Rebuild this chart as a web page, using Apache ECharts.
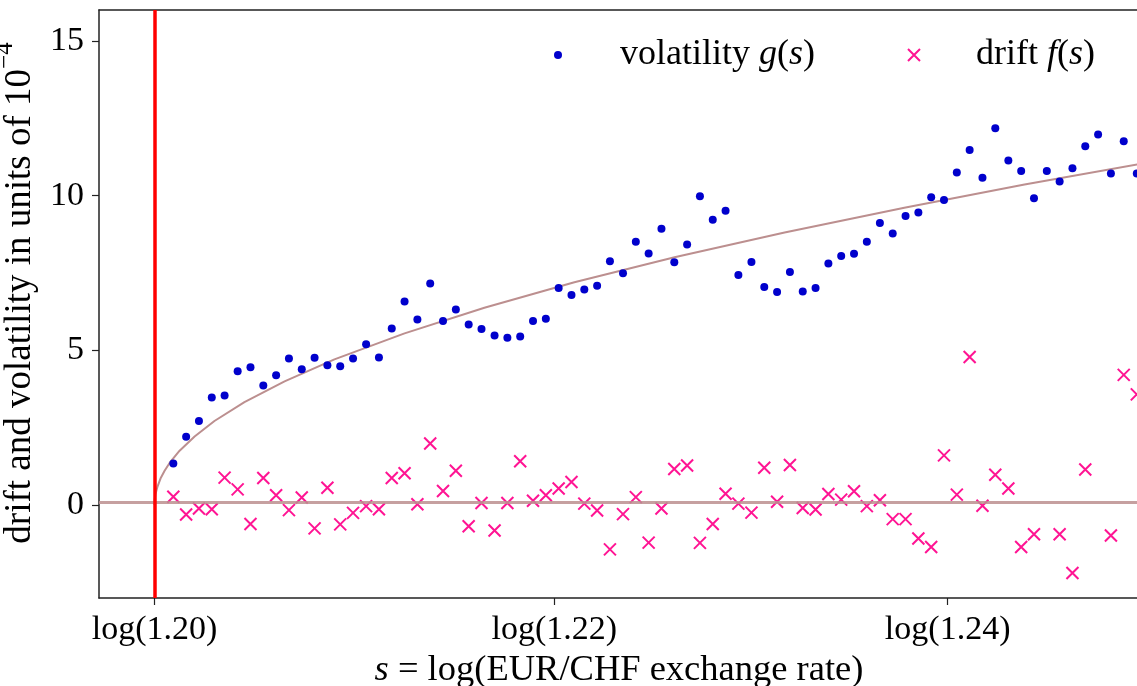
<!DOCTYPE html>
<html>
<head>
<meta charset="utf-8">
<script src="https://cdn.jsdelivr.net/npm/echarts@6/dist/echarts.min.js"></script>
<style>
  html, body { margin: 0; padding: 0; background: #ffffff; }
  #chart { width: 1137px; height: 686px; }
</style>
</head>
<body>
<div id="chart"></div>
<script>
// s = log(EUR/CHF) bin centres
const sBins = [
  0.18310, 0.18363, 0.18416, 0.18469, 0.18522, 0.18576, 0.18629, 0.18682, 0.18735, 0.18788,
  0.18841, 0.18894, 0.18947, 0.19000, 0.19053, 0.19107, 0.19160, 0.19213, 0.19266, 0.19319,
  0.19372, 0.19425, 0.19478, 0.19531, 0.19584, 0.19638, 0.19691, 0.19744, 0.19797, 0.19850,
  0.19903, 0.19956, 0.20009, 0.20062, 0.20115, 0.20169, 0.20222, 0.20275, 0.20328, 0.20381,
  0.20434, 0.20487, 0.20540, 0.20593, 0.20646, 0.20700, 0.20753, 0.20806, 0.20859, 0.20912,
  0.20965, 0.21018, 0.21071, 0.21124, 0.21177, 0.21231, 0.21284, 0.21337, 0.21390, 0.21443,
  0.21496, 0.21549, 0.21602, 0.21655, 0.21708, 0.21762, 0.21815, 0.21868, 0.21921, 0.21974,
  0.22027, 0.22080, 0.22133, 0.22186, 0.22239, 0.22293
];

// estimated volatility g(s), units of 1e-4
const volatility = [
  1.35, 2.21, 2.72, 3.48, 3.54, 4.33, 4.46, 3.87, 4.20, 4.74,
  4.39, 4.76, 4.52, 4.49, 4.74, 5.20, 4.77, 5.71, 6.58, 6.00,
  7.16, 5.95, 6.32, 5.84, 5.69, 5.48, 5.41, 5.45, 5.95, 6.02,
  7.02, 6.79, 6.97, 7.09, 7.88, 7.49, 8.51, 8.13, 8.93, 7.85,
  8.42, 9.98, 9.22, 9.51, 7.44, 7.86, 7.05, 6.89, 7.53, 6.90,
  7.02, 7.81, 8.05, 8.12, 8.51, 9.12, 8.78, 9.34, 9.46, 9.95,
  9.86, 10.75, 11.48, 10.58, 12.18, 11.14, 10.80, 9.92, 10.80, 10.46,
  10.89, 11.60, 11.98, 10.72, 11.76, 10.72
];

// estimated drift f(s), units of 1e-4 (null = outside the plotted range)
const drift = [
  0.27, -0.30, -0.11, -0.13, 0.89, 0.51, -0.61, 0.88, 0.32, -0.16,
  0.25, -0.75, 0.56, -0.62, -0.25, -0.03, -0.13, 0.88, 1.03, 0.03,
  1.99, 0.46, 1.11, -0.68, 0.07, -0.82, 0.07, 1.42, 0.14, 0.32,
  0.54, 0.75, 0.05, -0.17, -1.43, -0.29, 0.26, -1.21, -0.11, 1.17,
  1.28, -1.22, -0.61, 0.37, 0.05, -0.24, 1.21, 0.11, 1.30, -0.09,
  -0.14, 0.36, 0.18, 0.45, -0.03, 0.16, -0.45, -0.45, -1.08, -1.35,
  1.61, 0.34, 4.79, -0.02, 0.98, 0.54, -1.35, -0.94, null, -0.94,
  -2.19, 1.15, null, -0.98, 4.21, 3.58
];

// fitted volatility curve, sampled
const fitS = [
  0.18232, 0.18233, 0.18236, 0.18245, 0.18257, 0.18274, 0.18298, 0.18336, 0.18398, 0.18480,
  0.18604, 0.18770, 0.18976, 0.19266, 0.19596, 0.19968, 0.20382, 0.20837, 0.21332, 0.21829,
  0.22325
];
const fitG = [
  0.00, 0.19, 0.35, 0.61, 0.86, 1.11, 1.40, 1.76, 2.22, 2.72,
  3.33, 4.00, 4.71, 5.55, 6.38, 7.20, 8.01, 8.81, 9.61, 10.36,
  11.05
];

// fitted constant drift level
const driftLevel = 0.09;

// floor of the exchange rate
const floorRate = 1.20;

// axis ticks
const xTickRates = [1.20, 1.22, 1.24];
const xTickLabels = ['log(1.20)', 'log(1.22)', 'log(1.24)'];
const yTicks = [0, 5, 10, 15];

const X_MIN = 0.180028;
const X_MAX = 0.223021;
const FONT = 'Liberation Serif';
const INK = '#222222';

const xTickValues = xTickRates.map(r => Math.log(r));
const volData = sBins.map((s, i) => [s, volatility[i]]);
const driftData = sBins.map((s, i) => [s, drift[i]]).filter(p => p[1] !== null);
const fitData = fitS.map((s, i) => [s, fitG[i]]);

const CROSS = 'path://M0,0L10,10M10,0L0,10';
const PINK = '#ff1493';
const BLUE = '#0000cc';

const chart = echarts.init(document.getElementById('chart'), null, { renderer: 'canvas' });

const legendText = {
  fontFamily: FONT,
  fontSize: 36,
  color: '#000',
  lineHeight: 40,
  rich: {
    i: { fontFamily: FONT, fontSize: 36, fontStyle: 'italic', color: '#000', lineHeight: 40 },
    r: { fontFamily: FONT, fontSize: 36, color: '#000', lineHeight: 40 }
  }
};

chart.setOption({
  animation: false,
  backgroundColor: '#ffffff',
  grid: { left: 99, right: -2, top: 10, bottom: 88, containLabel: false, outerBoundsMode: 'none' },
  legend: [
    {
      data: ['volatility'],
      left: 554, top: 35,
      padding: 0,
      itemWidth: 8, itemHeight: 8,
      itemStyle: { opacity: 1 },
      formatter: () => '{r|volatility }{i|g}{r|(}{i|s}{r|)}',
      textStyle: Object.assign({ padding: [0, 0, 0, 53] }, legendText)
    },
    {
      data: ['drift'],
      left: 907, top: 35,
      padding: 0,
      itemWidth: 12, itemHeight: 12,
      itemStyle: { color: 'rgba(0,0,0,0)', borderColor: PINK, borderWidth: 2, opacity: 1 },
      formatter: () => '{r|drift }{i|f}{r|(}{i|s}{r|)}',
      textStyle: Object.assign({ padding: [0, 0, 0, 51] }, legendText)
    }
  ],
  xAxis: [
    {
      type: 'value',
      position: 'bottom',
      min: X_MIN,
      max: X_MAX,
      axisLine: { show: true, onZero: false, lineStyle: { color: INK, width: 1.5 } },
      axisTick: { show: true, customValues: xTickValues, length: 7, lineStyle: { color: INK, width: 1.2 } },
      axisLabel: {
        customValues: xTickValues,
        formatter: v => {
          const k = xTickValues.findIndex(t => Math.abs(t - v) < 1e-9);
          return k >= 0 ? xTickLabels[k] : '';
        },
        fontFamily: FONT, fontSize: 34, color: '#000', margin: 15
      },
      splitLine: { show: false },
      name: '{i|s}{r| = log(EUR/CHF exchange rate)}',
      nameLocation: 'middle',
      nameGap: 49,
      nameTextStyle: {
        fontFamily: FONT, fontSize: 36.5, color: '#000',
        rich: {
          i: { fontFamily: FONT, fontSize: 36.5, fontStyle: 'italic', color: '#000' },
          r: { fontFamily: FONT, fontSize: 36.5, color: '#000' }
        }
      }
    },
    {
      type: 'value',
      position: 'top',
      min: X_MIN,
      max: X_MAX,
      axisLine: { show: true, onZero: false, lineStyle: { color: INK, width: 1.5 } },
      axisTick: { show: false },
      axisLabel: { show: false },
      splitLine: { show: false }
    }
  ],
  yAxis: {
    type: 'value',
    min: -3,
    max: 16,
    axisLine: { show: true, onZero: false, lineStyle: { color: INK, width: 1.5 } },
    axisTick: { show: true, customValues: yTicks, length: 7, lineStyle: { color: INK, width: 1.2 } },
    axisLabel: { customValues: yTicks, fontFamily: FONT, fontSize: 34, color: '#000', margin: 15 },
    splitLine: { show: false },
    name: '{t|drift and volatility in units of 10}{sup|\u22124}',
    nameLocation: 'middle',
    nameRotate: 90,
    nameGap: 44,
    nameTextStyle: {
      fontFamily: FONT, fontSize: 37, color: '#000',
      padding: [0, 0, 0, 22],
      rich: {
        t: { fontFamily: FONT, fontSize: 37, color: '#000', lineHeight: 46, verticalAlign: 'bottom' },
        sup: { fontFamily: FONT, fontSize: 25, color: '#000', lineHeight: 25, verticalAlign: 'top' }
      }
    }
  },
  series: [
    {
      name: 'fit',
      type: 'line',
      data: fitData,
      showSymbol: false,
      symbol: 'none',
      smooth: false,
      z: 1,
      lineStyle: { color: '#bc8f8f', width: 2 },
      silent: true,
      markLine: {
        silent: true,
        symbol: 'none',
        precision: 6,
        label: { show: false },
        animation: false,
        data: [
          { yAxis: driftLevel, lineStyle: { color: 'rgba(188,143,143,0.85)', width: 3, type: 'solid' } }
        ]
      }
    },
    {
      name: 'floor',
      type: 'line',
      data: [],
      z: 2,
      silent: true,
      markLine: {
        silent: true,
        symbol: 'none',
        precision: 6,
        label: { show: false },
        animation: false,
        lineStyle: { color: '#ff0000', width: 3.5, type: 'solid' },
        data: [ { xAxis: Math.log(floorRate) } ]
      }
    },
    {
      name: 'volatility',
      type: 'scatter',
      data: volData,
      symbol: 'circle',
      symbolSize: 8,
      z: 3,
      itemStyle: { color: BLUE, opacity: 1 }
    },
    {
      name: 'drift',
      type: 'scatter',
      data: driftData,
      symbol: CROSS,
      symbolSize: 12,
      z: 4,
      itemStyle: { color: 'rgba(0,0,0,0)', borderColor: PINK, borderWidth: 2, opacity: 1 }
    }
  ]
});
</script>
</body>
</html>
